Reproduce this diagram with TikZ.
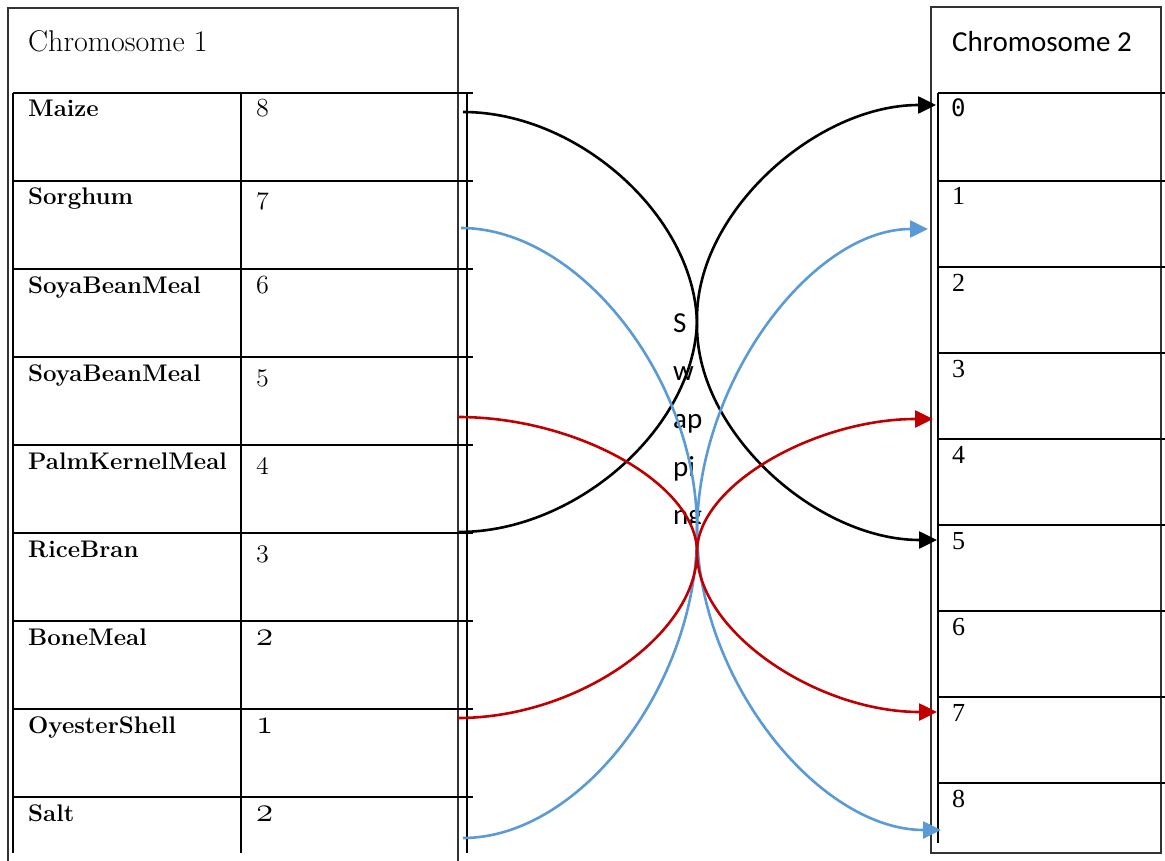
\documentclass[tikz,border=0pt]{standalone}
\usepackage{fontspec}
\usepackage{graphicx}
\newfontfamily\calfont{Carlito}
\newfontfamily\tnrfont{Liberation Serif}
\newfontfamily\monofnt{DejaVu Sans Mono}
\usetikzlibrary{arrows.meta}
\definecolor{cblue}{HTML}{5B9BD5}
\definecolor{cred}{HTML}{C00000}
\newcommand\osnum[2]{\scalebox{#1}{\fontsize{24.88}{28}\usefont{OML}{cmm}{m}{it}#2}}
\begin{document}
\begin{tikzpicture}[x=1pt,y=-1pt,
  tline/.style={line width=2.8pt,black},
  oframe/.style={line width=2pt,black!80},
  conn/.style={line width=2.6pt,-{Triangle[length=18pt,width=17pt]}},
  lname/.style={anchor=base west,inner sep=0pt,font=\fontsize{24}{28}\selectfont\bfseries},
  lnum/.style={anchor=base west,inner sep=0pt},
  rnum/.style={anchor=base west,inner sep=0pt,font=\fontsize{26}{30}\selectfont\tnrfont},
  ctext/.style={anchor=base west,inner sep=0pt,font=\fontsize{29}{34}\selectfont\calfont},
]
\fill[white] (0,0) rectangle (1165,861);
\useasboundingbox (0,0) rectangle (1165,861);

% ---------- left table ----------
\draw[oframe] (8,870) -- (8,8) -- (458,8) -- (458,870);
\foreach \k in {0,...,8} {\draw[tline] (13,{93+88*\k}) -- (473,{93+88*\k});}
\draw[tline] (13,93) -- (13,853);
\draw[tline] (241,93) -- (241,853);
\draw[tline] (467,93) -- (467,853);
\node[anchor=base west,inner sep=0pt,font=\fontsize{30}{35}\selectfont] (t1) at (28,52) {Chromosome 1};
\foreach \t/\n/\s [count=\i from 0] in {Maize/8/1.05,Sorghum/7/1.05,SoyaBeanMeal/6/1.05,SoyaBeanMeal/5/1.05,PalmKernelMeal/4/1.05,RiceBran/3/1.05,BoneMeal/2/1.4,OyesterShell/1/1.4,Salt/2/1.4} {
  \node[lname] (ln\i) at (28,{117+88*\i}) {\t};
  \node[lnum] (lv\i) at (256,{117+88*\i}) {\osnum{\s}{\n}};
}

% ---------- right table ----------
\draw[oframe,line width=2.2pt] (931,7) rectangle (1161,853);
\foreach \y in {93,181,267,353,439,525,611,697,783} {\draw[tline] (938,\y) -- (1165,\y);}
\draw[tline] (938,93) -- (938,843);
\node[anchor=base west,inner sep=0pt,font=\fontsize{29}{34}\selectfont\calfont] (t2) at (952,52) {Chromosome 2};
\node[anchor=base west,inner sep=0pt,font=\fontsize{24}{28}\selectfont\monofnt] (r0) at (951,117) {0};
\foreach \n/\y in {1/205,2/291,3/377,4/463,5/549,6/635,7/721,8/807} {
  \node[rnum] (r\n) at (952,\y) {\n};
}

% ---------- centre text ----------
\begin{scope}
\clip (600,290) rectangle (760,523);
\node[ctext] (sw1) at (673,332) {S};
\node[ctext] (sw2) at (673,380) {w};
\node[ctext] (sw3) at (673,428) {ap};
\node[ctext] (sw4) at (673,476) {pi};
\node[ctext] (sw5) at (673,524) {ng};
\end{scope}

% ---------- connectors ----------
\coordinate (b1s) at (463,112); \coordinate (b1m) at (697,326); \coordinate (b1e) at (937,540);
\coordinate (b2s) at (459,532); \coordinate (b2m) at (697,318); \coordinate (b2e) at (936,105);
\coordinate (u1s) at (461,228); \coordinate (u1m) at (697,529); \coordinate (u1e) at (941,830);
\coordinate (u2s) at (463,838); \coordinate (u2m) at (697,533); \coordinate (u2e) at (928,229);
\coordinate (d1s) at (458,417); \coordinate (d1m) at (697,552); \coordinate (d1e) at (937,712);
\coordinate (d2s) at (458,718); \coordinate (d2m) at (697,552); \coordinate (d2e) at (933,419);

\draw[conn,black] (b1s) .. controls (580,112) and (697,219) .. (b1m) .. controls (697,433) and (817,540) .. (b1e);
\draw[conn,black] (b2s) .. controls (578,532) and (697,425) .. (b2m) .. controls (697,211.5) and (816.5,105) .. (b2e);
\draw[conn,cblue] (u1s) .. controls (579,228) and (697,378.5) .. (u1m) .. controls (697,679.5) and (819,830) .. (u1e);
\draw[conn,cblue] (u2s) .. controls (580,838) and (697,685.5) .. (u2m) .. controls (697,381) and (812.5,229) .. (u2e);
\draw[conn,cred] (d1s) .. controls (577.5,417) and (697,484.5) .. (d1m) .. controls (697,632) and (817,712) .. (d1e);
\draw[conn,cred] (d2s) .. controls (577.5,718) and (697,635) .. (d2m) .. controls (697,485.5) and (815,419) .. (d2e);
\end{tikzpicture}
\end{document}
